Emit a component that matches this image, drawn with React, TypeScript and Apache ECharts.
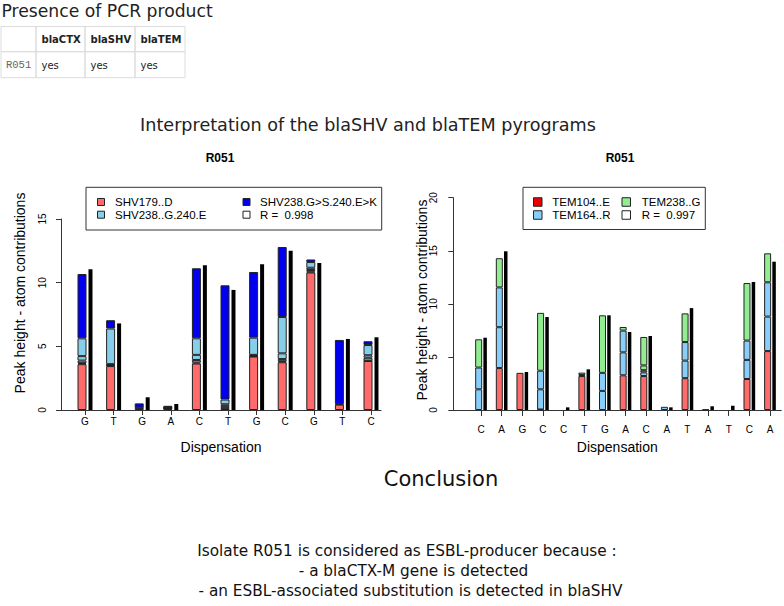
import React, { useEffect, useRef } from 'react';
import * as echarts from 'echarts';

// ---------- data ----------
const shvCategories = ['G', 'T', 'G', 'A', 'C', 'T', 'G', 'C', 'G', 'T', 'C'];
const shv179D_a = [3.6, 3.45, 0.15, 0.08, 3.65, 0.13, 4.2, 3.75, 10.8, 0.42, 3.85];
const shv179D_b = [0.08, 0.05, 0.03, 0.04, 0.08, 0.05, 0.03, 0.08, 0.07, 0.05, 0.03];
const shv238G240E_a = [0.2, 0.05, 0, 0.03, 0.2, 0.12, 0.05, 0.17, 0.12, 0, 0.22];
const shv238G240E_b = [0.35, 0.05, 0, 0.03, 0.4, 0.15, 0.05, 0.45, 0.18, 0, 0.2];
const shv238G240E_c = [1.4, 2.8, 0, 0.03, 1.3, 0.37, 1.35, 2.85, 0.45, 0, 0.8];
const shv238S240K = [5.05, 0.65, 0.34, 0.12, 5.5, 8.97, 5.16, 5.5, 0.2, 5.03, 0.3];
const shvObserved = [11.05, 6.8, 1.0, 0.47, 11.36, 9.43, 11.44, 12.5, 11.55, 5.58, 5.71];

const temCategories = ['C', 'A', 'G', 'C', 'C', 'T', 'G', 'A', 'C', 'A', 'T', 'A', 'T', 'C', 'A'];
const tem104E = [0, 3.95, 3.5, 0.05, 0, 3.2, 0, 3.27, 3.2, 0, 3.0, 0.05, 0, 2.92, 5.55];
const tem164R_a = [1.95, 3.85, 0, 1.9, 0, 0, 1.8, 2.16, 0.35, 0.3, 1.65, 0, 0, 1.8, 3.25];
const tem164R_b = [2.05, 3.75, 0, 1.75, 0, 0, 1.7, 2.05, 0.2, 0, 1.75, 0, 0, 1.82, 3.23];
const tem238G_a = [0, 0, 0, 0, 0, 0.1, 0, 0, 0.45, 0, 0, 0, 0, 0, 0];
const tem238G_b = [2.66, 2.75, 0, 5.45, 0, 0.22, 5.42, 0.34, 2.68, 0, 2.7, 0, 0, 5.42, 2.73];
const temObserved = [6.81, 14.95, 3.58, 8.76, 0.25, 3.83, 8.92, 7.35, 6.97, 0.25, 9.6, 0.35, 0.4, 12.06, 13.97];

const shvAxisMax = 15;
const temAxisMax = 20;
const tickStep = 5;

const tableHeader = ['', 'blaCTX', 'blaSHV', 'blaTEM'];
const tableRow = ['R051', 'yes', 'yes', 'yes'];

const shvLegend = [
  { label: 'SHV179..D', color: '#FF6A6A' },
  { label: 'SHV238..G.240.E', color: '#87CEEB' },
  { label: 'SHV238.G>S.240.E>K', color: '#0000EE' },
  { label: 'R =  0.998', color: '#FFFFFF' },
];
const temLegend = [
  { label: 'TEM104..E', color: '#EE0000' },
  { label: 'TEM164..R', color: '#87CEFA' },
  { label: 'TEM238..G', color: '#90EE90' },
  { label: 'R =  0.997', color: '#FFFFFF' },
];

const conclusionLines = [
  'Isolate R051 is considered as ESBL-producer because :',
  '- a blaCTX-M gene is detected',
  '- an ESBL-associated substitution is detected in blaSHV',
];

// ---------- styling ----------
const SALMON = '#FF6A6A';
const SKY = '#87CEEB';
const SKY2 = '#87CEFA';
const BLUE = '#0000EE';
const GREEN = '#90EE90';
const RFONT = 'Liberation Sans, Arial, sans-serif';
const HFONT = 'DejaVu Sans, Verdana, sans-serif';

function txt(text: string, x: number, y: number, size: number, opts: any = {}) {
  const align = opts.align || 'left';
  return {
    type: 'text',
    x,
    y,
    rotation: opts.rotation || 0,
    silent: true,
    style: {
      text,
      fontSize: size,
      fontFamily: opts.family || HFONT,
      fontWeight: opts.weight || 'normal',
      fill: opts.fill || '#111',
      align,
      textAlign: align,
      verticalAlign: 'middle',
      textVerticalAlign: 'middle',
    },
  };
}

function stackSeries(data: number[], color: string, stack: string, xi: number, yi: number, w: number, gap: string) {
  return {
    type: 'bar',
    stack,
    xAxisIndex: xi,
    yAxisIndex: yi,
    barWidth: w,
    barGap: gap,
    silent: true,
    data: data.map((v) => (v === 0 ? '-' : v)),
    itemStyle: { color, borderColor: '#222', borderWidth: 1 },
  };
}

function obsSeries(data: number[], xi: number, yi: number, w: number, gap: string) {
  return {
    type: 'bar',
    xAxisIndex: xi,
    yAxisIndex: yi,
    barWidth: w,
    barGap: gap,
    silent: true,
    data,
    itemStyle: { color: '#000' },
  };
}

function legendBox(items: any[], box: any, sw: number, col1Sw: number, col1Tx: number, col2Sw: number, col2Tx: number, rows: number[]) {
  const els: any[] = [
    {
      type: 'rect',
      silent: true,
      shape: { x: box.x, y: box.y, width: box.w, height: box.h },
      style: { fill: '#fff', stroke: '#333', lineWidth: 1 },
    },
  ];
  items.forEach((it, i) => {
    const col = i < 2 ? 0 : 1;
    const row = i % 2;
    const sx = col === 0 ? col1Sw : col2Sw;
    const tx = col === 0 ? col1Tx : col2Tx;
    els.push({
      type: 'rect',
      silent: true,
      shape: { x: sx, y: rows[row] - sw / 2, width: sw, height: sw },
      style: { fill: it.color, stroke: '#222', lineWidth: 1 },
    });
    els.push(txt(it.label, tx, rows[row], 11.5, { family: RFONT, fill: '#000' }));
  });
  return els;
}

export default function App() {
  const ref = useRef<HTMLDivElement>(null);

  useEffect(() => {
    if (!ref.current) return;
    const chart = echarts.init(ref.current, null, { renderer: 'svg' });

    // table
    const colX = [1, 36, 85, 135, 185];
    const rowY = [26.5, 51.7, 77.7];
    const tableEls: any[] = [];
    for (let r = 0; r < 2; r++) {
      for (let c = 0; c < 4; c++) {
        tableEls.push({
          type: 'rect',
          silent: true,
          shape: { x: colX[c], y: rowY[r], width: colX[c + 1] - colX[c], height: rowY[r + 1] - rowY[r] },
          style: { fill: 'none', stroke: '#dcdcdc', lineWidth: 1 },
        });
      }
    }
    tableHeader.forEach((h, c) => {
      if (h) tableEls.push(txt(h, colX[c] + 5.5, 39.5, 10, { weight: 'bold', fill: '#222' }));
    });
    tableRow.forEach((v, c) => {
      if (c === 0) tableEls.push(txt(v, 6, 65, 10.5, { family: 'Liberation Mono, Courier New, monospace', fill: '#666' }));
      else tableEls.push(txt(v, colX[c] + 5.5, 65, 10, { fill: '#222' }));
    });

    const graphic: any[] = [
      txt('Presence of PCR product', 1.5, 11, 17.2, { fill: '#222' }),
      ...tableEls,
      txt('Interpretation of the blaSHV and blaTEM pyrograms', 368, 125, 17.6, { align: 'center', fill: '#222' }),
      txt('R051', 220, 158, 12, { align: 'center', family: RFONT, weight: 'bold', fill: '#000' }),
      txt('R051', 620, 158, 12, { align: 'center', family: RFONT, weight: 'bold', fill: '#000' }),
      txt('Peak height - atom contributions', 20, 293, 14, { align: 'center', family: RFONT, fill: '#000', rotation: Math.PI / 2 }),
      txt('Peak height - atom contributions', 421.7, 300, 14, { align: 'center', family: RFONT, fill: '#000', rotation: Math.PI / 2 }),
      ...legendBox(shvLegend, { x: 86, y: 187.3, w: 295.7, h: 42.7 }, 7, 97.5, 115, 243, 260, [202, 214.7]),
      ...legendBox(temLegend, { x: 523, y: 187.3, w: 182.3, h: 42.2 }, 8.5, 533.5, 552.3, 622, 641.7, [202, 215]),
      txt('Conclusion', 441, 479, 21, { align: 'center', fill: '#111' }),
      txt(conclusionLines[0], 407, 551, 15.3, { align: 'center', fill: '#111' }),
      txt(conclusionLines[1], 413.5, 571, 15.3, { align: 'center', fill: '#111' }),
      txt(conclusionLines[2], 410.5, 591, 15.3, { align: 'center', fill: '#111' }),
    ];

    const frameX = (gi: number) => ({
      type: 'value',
      gridIndex: gi,
      min: 0,
      max: 1,
      axisLine: { show: true, onZero: false, lineStyle: { color: '#333', width: 1 } },
      axisTick: { show: false },
      axisLabel: { show: false },
      splitLine: { show: false },
      name: 'Dispensation',
      nameLocation: 'middle',
      nameGap: 30,
      nameTextStyle: { fontSize: 14, fontFamily: RFONT, color: '#000' },
    });
    const frameY = (gi: number, max: number, labelMargin: number) => ({
      type: 'value',
      gridIndex: gi,
      min: 0,
      max,
      interval: tickStep,
      axisLine: { show: true, onZero: false, lineStyle: { color: '#333', width: 1 } },
      axisTick: { show: true, length: 5, lineStyle: { color: '#333' } },
      axisLabel: { rotate: 90, fontSize: 10, fontFamily: RFONT, color: '#000', margin: labelMargin },
      splitLine: { show: false },
    });
    const catX = (gi: number, data: string[], margin: number, tick: number) => ({
      type: 'category',
      gridIndex: gi,
      data,
      axisLine: { show: false },
      axisTick: { show: true, alignWithLabel: true, length: tick, lineStyle: { color: '#333' } },
      axisLabel: { fontSize: 10, fontFamily: RFONT, color: '#000', margin },
      splitLine: { show: false },
    });
    const hiddenY = (gi: number, max: number) => ({ type: 'value', gridIndex: gi, min: 0, max, show: false });

    const option: any = {
      animation: false,
      backgroundColor: '#fff',
      graphic,
      grid: [
        { left: 61, top: 219, width: 320, height: 191 },
        { left: 70.7, top: 219, width: 314.6, height: 191 },
        { left: 453.3, top: 197.7, width: 328, height: 212.3 },
        { left: 470.7, top: 197.7, width: 309.6, height: 212.3 },
      ],
      xAxis: [frameX(0), catX(1, shvCategories, 6, 5), frameX(2), catX(3, temCategories, 14, 6)],
      yAxis: [frameY(0, shvAxisMax, 14), hiddenY(1, shvAxisMax), frameY(2, temAxisMax, 15), hiddenY(3, temAxisMax)],
      series: [
        stackSeries(shv179D_a, SALMON, 'shv', 1, 1, 9, '22%'),
        stackSeries(shv179D_b, SALMON, 'shv', 1, 1, 9, '22%'),
        stackSeries(shv238G240E_a, SKY, 'shv', 1, 1, 9, '22%'),
        stackSeries(shv238G240E_b, SKY, 'shv', 1, 1, 9, '22%'),
        stackSeries(shv238G240E_c, SKY, 'shv', 1, 1, 9, '22%'),
        stackSeries(shv238S240K, BLUE, 'shv', 1, 1, 9, '22%'),
        obsSeries(shvObserved, 1, 1, 4, '22%'),
        stackSeries(tem104E, SALMON, 'tem', 3, 3, 7, '17%'),
        stackSeries(tem164R_a, SKY2, 'tem', 3, 3, 7, '17%'),
        stackSeries(tem164R_b, SKY2, 'tem', 3, 3, 7, '17%'),
        stackSeries(tem238G_a, GREEN, 'tem', 3, 3, 7, '17%'),
        stackSeries(tem238G_b, GREEN, 'tem', 3, 3, 7, '17%'),
        obsSeries(temObserved, 3, 3, 3.5, '17%'),
      ],
    };

    chart.setOption(option);
    return () => chart.dispose();
  }, []);

  return <div ref={ref} style={{ position: 'absolute', left: 0, top: 0, width: 784, height: 606, background: '#fff' }} />;
}
